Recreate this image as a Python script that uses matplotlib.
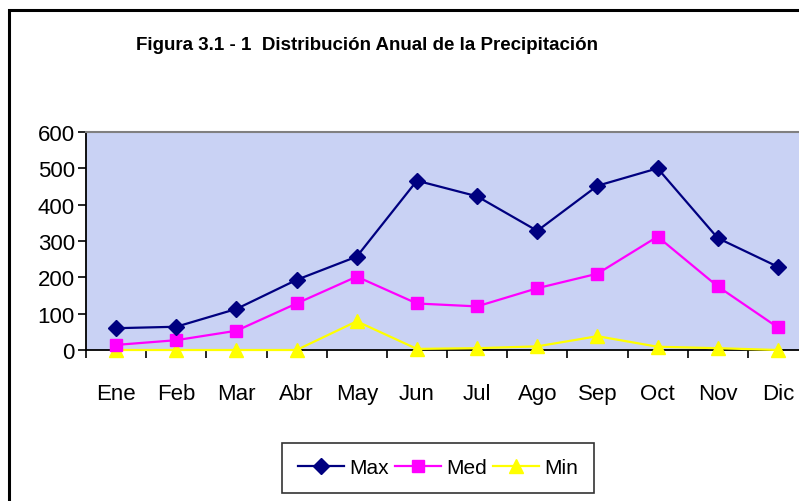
import matplotlib
matplotlib.use("Agg")
import matplotlib.pyplot as plt
from matplotlib.patches import Rectangle

months = ["Ene", "Feb", "Mar", "Abr", "May", "Jun", "Jul", "Ago", "Sep", "Oct", "Nov", "Dic"]
max_vals = [60, 64, 113, 193, 257, 466, 423, 328, 452, 500, 308, 229]
med_vals = [14, 27, 53, 128, 202, 128, 120, 170, 210, 312, 175, 62]
min_vals = [0, 0, 0, 0, 79, 3, 5, 10, 38, 9, 5, 0]
y_ticks = [0, 100, 200, 300, 400, 500, 600]

plt.rcParams['font.family'] = ['Liberation Sans', 'DejaVu Sans']

fig = plt.figure(figsize=(7.99, 5.02), dpi=100)
fig.patch.set_facecolor('white')

# outer chart border (extends past the crop on right/bottom)
fig.patches.append(Rectangle((9/799, -0.1), 1.2, 1.1 - 11/502, transform=fig.transFigure,
                             fill=False, edgecolor='black', linewidth=2.2, zorder=0))

ax = fig.add_axes([86/799, 1 - 351/502, 722/799, 218/502])
ax.set_facecolor('#c9d2f4')

x = list(range(len(months)))
ax.plot(x, max_vals, color='#000080', linewidth=1.6, marker='D', markersize=8,
        markerfacecolor='#000080', markeredgecolor='#000080', label='Max', clip_on=False, zorder=5)
ax.plot(x, med_vals, color='#ff00ff', linewidth=1.6, marker='s', markersize=9,
        markerfacecolor='#ff00ff', markeredgecolor='#ff00ff', label='Med', clip_on=False, zorder=4)
ax.plot(x, min_vals, color='#ffff00', linewidth=1.6, marker='^', markersize=10,
        markerfacecolor='#ffff00', markeredgecolor='#ffff00', label='Min', clip_on=False, zorder=3)

ax.set_xlim(-0.5, len(months) - 0.5)
ax.set_ylim(0, 600)
ax.set_yticks(y_ticks)
ax.set_yticklabels([str(v) for v in y_ticks], fontsize=16)
ax.set_xticks([i - 0.5 for i in range(len(months) + 1)])
ax.set_xticklabels([])
ax.set_xticks(x, minor=True)
ax.set_xticklabels(months, minor=True, fontsize=16)
for lbl in ax.get_xticklabels(minor=True):
    lbl.set_verticalalignment('baseline')
ax.tick_params(axis='x', which='minor', length=0, pad=35)
ax.tick_params(axis='x', which='major', direction='out', length=6, width=1.2, color='black')
ax.tick_params(axis='y', direction='out', length=6, width=1.2, color='black', pad=2)

for s in ['left', 'bottom']:
    ax.spines[s].set_color('black')
    ax.spines[s].set_linewidth(1.3)
ax.spines['top'].set_color('#808080')
ax.spines['top'].set_linewidth(1.5)
ax.spines['right'].set_color('#808080')

fig.text(367/799, 1 - 46/502, "Figura 3.1 - 1  Distribución Anual de la Precipitación",
         ha='center', va='center', fontsize=13.5, fontweight='bold')

leg = fig.legend(loc='center', bbox_to_anchor=(438/799, 1 - 469/502), ncol=3, fontsize=15,
                 frameon=True, fancybox=False, edgecolor='black', handlelength=2.2,
                 columnspacing=0.3, handletextpad=0.25, borderpad=0.75, borderaxespad=0)
leg.get_frame().set_linewidth(1.2)

fig.savefig('out.png', dpi=100)
